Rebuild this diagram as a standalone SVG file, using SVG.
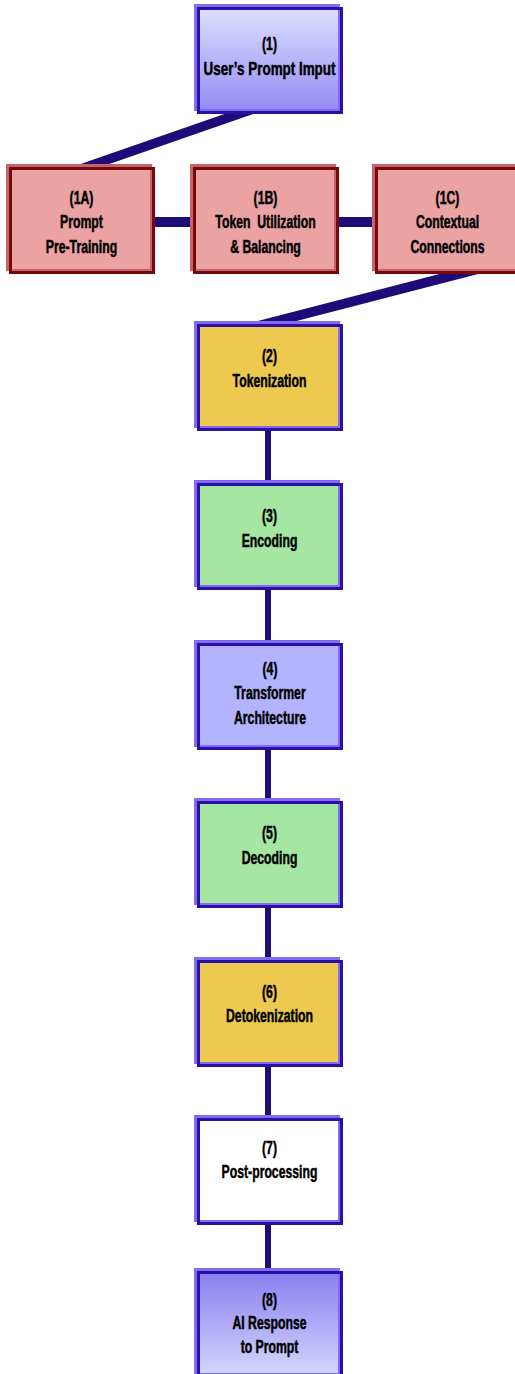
<svg xmlns="http://www.w3.org/2000/svg" width="515" height="1374" viewBox="0 0 515 1374">
  <defs>
    <linearGradient id="gIn" x1="0" y1="0" x2="0" y2="1">
      <stop offset="0" stop-color="#dcdeff"/>
      <stop offset="1" stop-color="#958cf2"/>
    </linearGradient>
    <linearGradient id="gOut" x1="0" y1="0" x2="0" y2="1">
      <stop offset="0" stop-color="#8a80f0"/>
      <stop offset="1" stop-color="#d2d4fd"/>
    </linearGradient>
    <style>
      .lt { fill: #7f6cf0; }
      .dk { fill: #2d0fa8; }
      .r .lt { fill: #c4636b; }
      .r .dk { fill: #760a0a; }
      .pink { fill: #eba2a3; }
      .gold { fill: #edca4f; }
      .green { fill: #a4e6a2; }
      .lav { fill: #b4b3ff; }
      .white { fill: #ffffff; }
      .link { fill: #1e0b78; }
      text { font-family: "Liberation Sans", Arial, sans-serif; font-weight: bold; font-size: 18px; fill: #000; stroke: #000; stroke-width: 0.5px; text-anchor: middle; }
    </style>
  </defs>

  <!-- connectors -->
  <g id="connectors">
    <polygon class="link" points="279,95 49,175 49,185 279,105"/>
    <rect class="link" x="100" y="217" width="350" height="10"/>
    <polygon class="link" points="513,255 223,330 223,340 513,265"/>
    <rect class="link" x="265" y="400" width="6" height="890"/>
  </g>

  <!-- (1) -->
  <g id="n1">
    <rect class="lt" x="194" y="4" width="146" height="107"/>
    <rect class="dk" x="197" y="7" width="146" height="107"/>
    <rect class="lt" x="200" y="10" width="140" height="101"/>
    <rect fill="url(#gIn)" x="200" y="10" width="138" height="99"/>
    <g transform="translate(269.5,0) scale(0.68,1)">
      <text x="0" y="50">(1)</text>
      <text x="0" y="75" textLength="194" lengthAdjust="spacingAndGlyphs">User’s Prompt Imput</text>
    </g>
  </g>

  <!-- (1A) -->
  <g id="n1a" class="r">
    <rect class="lt" x="6" y="164" width="146" height="107"/>
    <rect class="dk" x="9" y="167" width="146" height="107"/>
    <rect class="lt" x="12" y="170" width="140" height="101"/>
    <rect class="pink" x="12" y="170" width="138" height="99"/>
    <g transform="translate(81.5,0) scale(0.68,1)">
      <text x="0" y="204">(1A)</text>
      <text x="0" y="228">Prompt</text>
      <text x="0" y="253">Pre-Training</text>
    </g>
  </g>

  <!-- (1B) -->
  <g id="n1b" class="r">
    <rect class="lt" x="190" y="164" width="146" height="107"/>
    <rect class="dk" x="193" y="167" width="146" height="107"/>
    <rect class="lt" x="196" y="170" width="140" height="101"/>
    <rect class="pink" x="196" y="170" width="138" height="99"/>
    <g transform="translate(265.5,0) scale(0.68,1)">
      <text x="0" y="204">(1B)</text>
      <text x="0" y="228" xml:space="preserve">Token  Utilization</text>
      <text x="0" y="253">&amp; Balancing</text>
    </g>
  </g>

  <!-- (1C) -->
  <g id="n1c" class="r">
    <rect class="lt" x="372" y="164" width="146" height="107"/>
    <rect class="dk" x="375" y="167" width="146" height="107"/>
    <rect class="lt" x="378" y="170" width="140" height="101"/>
    <rect class="pink" x="378" y="170" width="138" height="99"/>
    <g transform="translate(447.5,0) scale(0.68,1)">
      <text x="0" y="204">(1C)</text>
      <text x="0" y="228">Contextual</text>
      <text x="0" y="253">Connections</text>
    </g>
  </g>

  <!-- (2) -->
  <g id="n2">
    <rect class="lt" x="194" y="321" width="146" height="107"/>
    <rect class="dk" x="197" y="324" width="146" height="107"/>
    <rect class="lt" x="200" y="327" width="140" height="101"/>
    <rect class="gold" x="200" y="327" width="138" height="99"/>
    <g transform="translate(269.5,0) scale(0.68,1)">
      <text x="0" y="362">(2)</text>
      <text x="0" y="387">Tokenization</text>
    </g>
  </g>

  <!-- (3) -->
  <g id="n3">
    <rect class="lt" x="194" y="480" width="146" height="107"/>
    <rect class="dk" x="197" y="483" width="146" height="107"/>
    <rect class="lt" x="200" y="486" width="140" height="101"/>
    <rect class="green" x="200" y="486" width="138" height="99"/>
    <g transform="translate(269.5,0) scale(0.68,1)">
      <text x="0" y="522">(3)</text>
      <text x="0" y="547">Encoding</text>
    </g>
  </g>

  <!-- (4) -->
  <g id="n4">
    <rect class="lt" x="194" y="640" width="146" height="107"/>
    <rect class="dk" x="197" y="643" width="146" height="107"/>
    <rect class="lt" x="200" y="646" width="140" height="101"/>
    <rect class="lav" x="200" y="646" width="138" height="99"/>
    <g transform="translate(270,0) scale(0.68,1)">
      <text x="0" y="675">(4)</text>
      <text x="0" y="699">Transformer</text>
      <text x="0" y="724">Architecture</text>
    </g>
  </g>

  <!-- (5) -->
  <g id="n5">
    <rect class="lt" x="194" y="798" width="146" height="107"/>
    <rect class="dk" x="197" y="801" width="146" height="107"/>
    <rect class="lt" x="200" y="804" width="140" height="101"/>
    <rect class="green" x="200" y="804" width="138" height="99"/>
    <g transform="translate(269.5,0) scale(0.68,1)">
      <text x="0" y="839">(5)</text>
      <text x="0" y="864">Decoding</text>
    </g>
  </g>

  <!-- (6) -->
  <g id="n6">
    <rect class="lt" x="194" y="957" width="146" height="107"/>
    <rect class="dk" x="197" y="960" width="146" height="107"/>
    <rect class="lt" x="200" y="963" width="140" height="101"/>
    <rect class="gold" x="200" y="963" width="138" height="99"/>
    <g transform="translate(269.5,0) scale(0.68,1)">
      <text x="0" y="998">(6)</text>
      <text x="0" y="1022">Detokenization</text>
    </g>
  </g>

  <!-- (7) -->
  <g id="n7">
    <rect class="lt" x="194" y="1115" width="146" height="107"/>
    <rect class="dk" x="197" y="1118" width="146" height="107"/>
    <rect class="lt" x="200" y="1121" width="140" height="101"/>
    <rect class="white" x="200" y="1121" width="138" height="99"/>
    <g transform="translate(269.5,0) scale(0.68,1)">
      <text x="0" y="1154">(7)</text>
      <text x="0" y="1178">Post-processing</text>
    </g>
  </g>

  <!-- (8) -->
  <g id="n8">
    <rect class="lt" x="194" y="1268" width="146" height="107"/>
    <rect class="dk" x="197" y="1271" width="146" height="107"/>
    <rect class="lt" x="200" y="1274" width="140" height="101"/>
    <rect fill="url(#gOut)" x="200" y="1274" width="138" height="99"/>
    <g transform="translate(269.5,0) scale(0.68,1)">
      <text x="0" y="1306">(8)</text>
      <text x="0" y="1329">AI Response</text>
      <text x="0" y="1353">to Prompt</text>
    </g>
  </g>
</svg>
